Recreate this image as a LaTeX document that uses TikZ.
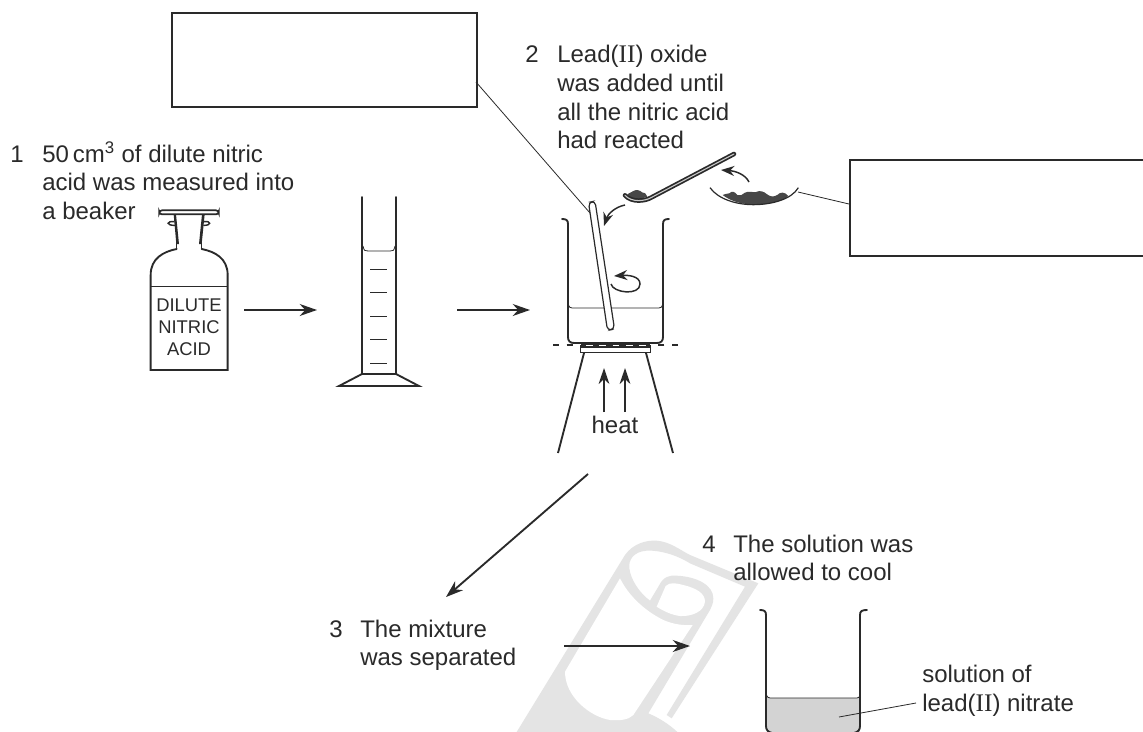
\documentclass[tikz,border=0pt]{standalone}
\usepackage{fontspec}
\setmainfont{Liberation Sans}
\newfontfamily\romanfont{Liberation Serif}
\usetikzlibrary{arrows.meta}
\definecolor{ink}{HTML}{2A2A2A}
\definecolor{wm}{HTML}{E4E4E4}
\definecolor{soln}{HTML}{D3D3D3}
\definecolor{powder}{HTML}{474747}
\newcommand{\rII}{{\romanfont\fontsize{19}{20}\selectfont II}}
\tikzset{
  txt/.style={anchor=base west,inner sep=0pt,text=ink,font=\fontsize{18}{20}\selectfont},
  lbl/.style={anchor=base,inner sep=0pt,text=ink,font=\fontsize{13.8}{16}\selectfont},
  ln/.style={draw=ink,line width=1.1pt},
  thin line/.style={draw=ink,line width=0.6pt},
  glass/.style={draw=ink,line width=1.4pt,line cap=round},
  arr/.style={draw=ink,line width=1.4pt,-{Stealth[length=13pt,width=9pt]}},
  heatarr/.style={draw=ink,line width=1.4pt,-{Stealth[length=12pt,width=8pt]}},
  smallarr/.style={draw=ink,line width=1.1pt,-{Stealth[length=10pt,width=7.5pt]}},
  answerbox/.style={draw=ink,line width=1.4pt,fill=white,inner sep=0pt,anchor=north west}
}
\begin{document}
\begin{tikzpicture}[x=0.75pt,y=-0.75pt]
\useasboundingbox (0,0) rectangle (1143,732);
\clip (0,0) rectangle (1143,732);
\fill[white] (0,0) rectangle (1143,732);
% watermark
\begin{scope}[shift={(500,530)},scale=0.33333]
\fill[wm] (50,606) -- (375,75) .. controls (400,40) and (440,30) .. (470,32)
  .. controls (510,35) and (540,60) .. (570,75) -- (775,160) -- (515,565) -- (500,555) -- (735,170)
  -- (570,100) .. controls (530,75) and (480,60) .. (440,62) .. controls (400,65) and (385,90) .. (388,115)
  .. controls (392,150) and (420,190) .. (450,212) -- (478,165) .. controls (490,140) and (510,135) .. (530,137)
  .. controls (590,140) and (640,165) .. (640,205) .. controls (640,220) and (635,230) .. (630,240)
  -- (445,550) .. controls (480,565) and (510,585) .. (532,606) -- cycle;
\fill[white] (497,168) .. controls (510,155) and (530,160) .. (550,165) .. controls (590,175) and (615,190) .. (615,215)
  .. controls (612,245) and (575,260) .. (540,258) .. controls (515,255) and (490,243) .. (470,230) -- cycle;
\fill[white] (360,145) .. controls (385,195) and (430,240) .. (490,270) .. controls (520,283) and (550,287) .. (578,285)
  -- (400,555) .. controls (385,570) and (360,572) .. (330,570) .. controls (270,560) and (195,500) .. (195,425) -- cycle;
\end{scope}
% answer boxes
\node[answerbox,minimum width=305pt*0.75,minimum height=94pt*0.75] (boxa) at (171,12) {};
\node[answerbox,minimum width=300pt*0.75,minimum height=96pt*0.75] (boxb) at (849,159) {};
% text
\node[txt] (n1) at (10,162) {1};
\node[txt] (t1a) at (42,162) {50\,cm\textsuperscript{3} of dilute nitric};
\node[txt] (t1b) at (42,190.5) {acid was measured into};
\node[txt] (t1c) at (42,219) {a beaker};
\node[txt] (n2) at (525,62) {2};
\node[txt] (t2a) at (557,62) {Lead(\rII) oxide};
\node[txt] (t2b) at (557,91) {was added until};
\node[txt] (t2c) at (557,120) {all the nitric acid};
\node[txt] (t2d) at (557,148.5) {had reacted};
\node[txt] (n3) at (329,637) {3};
\node[txt] (t3a) at (360,637) {The mixture};
\node[txt] (t3b) at (360,665) {was separated};
\node[txt] (n4) at (702,552) {4};
\node[txt] (t4a) at (733,552) {The solution was};
\node[txt] (t4b) at (733,580) {allowed to cool};
\node[txt] (s1) at (922,682) {solution of};
\node[txt] (s2) at (922,711) {lead(\rII) nitrate};
\node[txt,anchor=base] (heat) at (615,433) {heat};
% bottle
\begin{scope}[shift={(130,190)},scale=0.33333]
\draw[glass] (140,177) .. controls (100,185) and (62,205) .. (62,255) -- (62,540) -- (293,540) -- (293,255)
  .. controls (293,205) and (255,185) .. (215,177);
\draw[thin line] (62,290) -- (293,290);
\fill[ink] (131,73) -- (138,73) -- (147,162) -- (139,162) -- cycle;
\fill[ink] (216,73) -- (224,73) -- (215,162) -- (207,162) -- cycle;
\draw[ln] (140,160) -- (140,177);
\draw[ln] (214,160) -- (214,177);
\draw[ln,line width=1.3pt,fill=white,rounded corners=2pt] (88,61) rectangle (266,73);
\draw[ln] (134,95) .. controls (108,92) and (108,107) .. (135,106);
\draw[ln] (222,95) .. controls (245,92) and (245,107) .. (220,106);
\end{scope}
\node[lbl] (d1) at (189,311) {DILUTE};
\node[lbl] (d2) at (189,333) {NITRIC};
\node[lbl] (d3) at (189,355) {ACID};
% cylinder
\draw[glass] (362,197) -- (362,374) -- (339,386) -- (419,386) -- (396,374) -- (396,197);
\draw[ln,line width=0.9pt] (362,374) -- (396,374);
\draw[thin line] (363,246) .. controls (364,251) and (365,251) .. (368,251) -- (390,251) .. controls (393,251) and (394,251) .. (395,246);
\foreach \yy in {269,292,316,339,363} \draw[thin line,line width=0.7pt] (370,\yy) -- (387,\yy);
% beaker
\draw[glass] (562,219) .. controls (566,219) and (568,220) .. (568,224) -- (568,337) .. controls (568,341) and (570,343) .. (574,343)
  -- (657,343) .. controls (661,343) and (663,341) .. (663,337) -- (663,224) .. controls (663,220) and (665,219) .. (669,219);
\draw[thin line] (568,304) .. controls (569,307) and (570,308) .. (572,308) -- (659,308) .. controls (661,308) and (662,307) .. (663,304);
% rod
\draw[ln,line width=0.9pt,fill=white,rounded corners=3pt] (588.5,202.5) -- (595,201) -- (614.5,329) -- (607.5,330.5) -- cycle;
% gauze and tripod
\draw[ln,line width=1.5pt,dash pattern=on 4.7pt off 5.5pt] (553,345) -- (573,345);
\draw[ln,line width=1.5pt,dash pattern=on 4.7pt off 5.5pt] (678,345) -- (658,345);
\fill[ink] (581,343.5) rectangle (650,348);
\draw[white,line width=1pt,dash pattern=on 5pt off 5pt] (586,345.3) -- (648,345.3);
\draw[ln,line width=1.4pt] (580.5,345) -- (580.5,352.5) -- (650.5,352.5) -- (650.5,345);
\draw[ln,line width=1.4pt] (584,353) -- (558,453);
\draw[ln,line width=1.4pt] (646,353) -- (673,453);
\coordinate (h1a) at (604,412); \coordinate (h1b) at (604,368);
\coordinate (h2a) at (625,412); \coordinate (h2b) at (625,368);
\draw[heatarr] (h1a) -- (h1b);
\draw[heatarr] (h2a) -- (h2b);
% spoon and dish
\begin{scope}[shift={(540,140)},scale=0.33333]
\fill[powder] (262,165) .. controls (268,155) and (275,160) .. (280,153) .. controls (288,148) and (300,150) .. (306,157)
  .. controls (312,155) and (320,162) .. (322,170) -- (285,182) -- cycle;
\draw[draw=ink,line width=3.4pt,line cap=round] (582,42) -- (335,172) .. controls (315,184) and (275,188) .. (255,166);
\draw[draw=white!75!ink,line width=0.8pt,line cap=round] (582,42) -- (335,172) .. controls (315,184) and (275,188) .. (255,166);
\fill[powder] (548,165) .. controls (555,158) and (560,165) .. (568,160) .. controls (575,152) and (585,155) .. (592,165)
  .. controls (600,168) and (608,165) .. (615,158) .. controls (625,152) and (640,158) .. (648,156) .. controls (660,150) and (672,155) .. (680,162)
  .. controls (690,170) and (700,172) .. (712,165) .. controls (720,155) and (735,155) .. (745,168)
  .. controls (720,188) and (680,194) .. (640,194) .. controls (600,192) and (570,182) .. (548,165) -- cycle;
\draw[thin line,line width=0.9pt] (510,143) .. controls (535,178) and (590,194) .. (640,194) .. controls (695,194) and (755,178) .. (775,143);
\end{scope}
\coordinate (ca) at (749,182); \coordinate (cb) at (721,170);
\draw[smallarr] (ca) .. controls (745,174) and (735,171) .. (cb);
\coordinate (cc) at (625,205); \coordinate (cd) at (604,226);
\draw[smallarr] (cc) .. controls (615,207) and (608,214) .. (cd);
% stirring
\coordinate (ra) at (611,284); \coordinate (rb) at (614,276);
\draw[smallarr] (ra) .. controls (613,293) and (640,296) .. (640,284) .. controls (640,276) and (628,275) .. (rb);
% leaders
\coordinate (la) at (476,82); \coordinate (lb) at (590,213);
\coordinate (lc) at (798,192); \coordinate (ld) at (849,204);
\draw[thin line] (la) -- (lb);
\draw[thin line] (lc) -- (ld);
% process arrows
\coordinate (p1a) at (244,310); \coordinate (p1b) at (317,310);
\coordinate (p2a) at (457,310); \coordinate (p2b) at (530,310);
\coordinate (p3a) at (588,474); \coordinate (p3b) at (446,597);
\coordinate (p4a) at (564,646); \coordinate (p4b) at (690,646);
\draw[arr] (p1a) -- (p1b);
\draw[arr] (p2a) -- (p2b);
\draw[arr] (p3a) -- (p3b);
\draw[arr] (p4a) -- (p4b);
% lower beaker
\fill[soln] (767,698) -- (860,698) -- (860,732) -- (767,732) -- cycle;
\draw[glass] (760,610) .. controls (764,610) and (766,611) .. (766,615) -- (766,726) .. controls (766,730) and (768,732) .. (772,733)
  (854,733) .. controls (858,732) and (860,730) .. (860,726) -- (860,615) .. controls (860,611) and (862,610) .. (867,610);
\draw[thin line] (766,694) .. controls (767,697) and (768,698) .. (770,698) -- (857,698) .. controls (859,698) and (860,697) .. (860,694);
\coordinate (sa) at (839,717); \coordinate (sb) at (916,703);
\draw[thin line] (sa) -- (sb);
\end{tikzpicture}
\end{document}
